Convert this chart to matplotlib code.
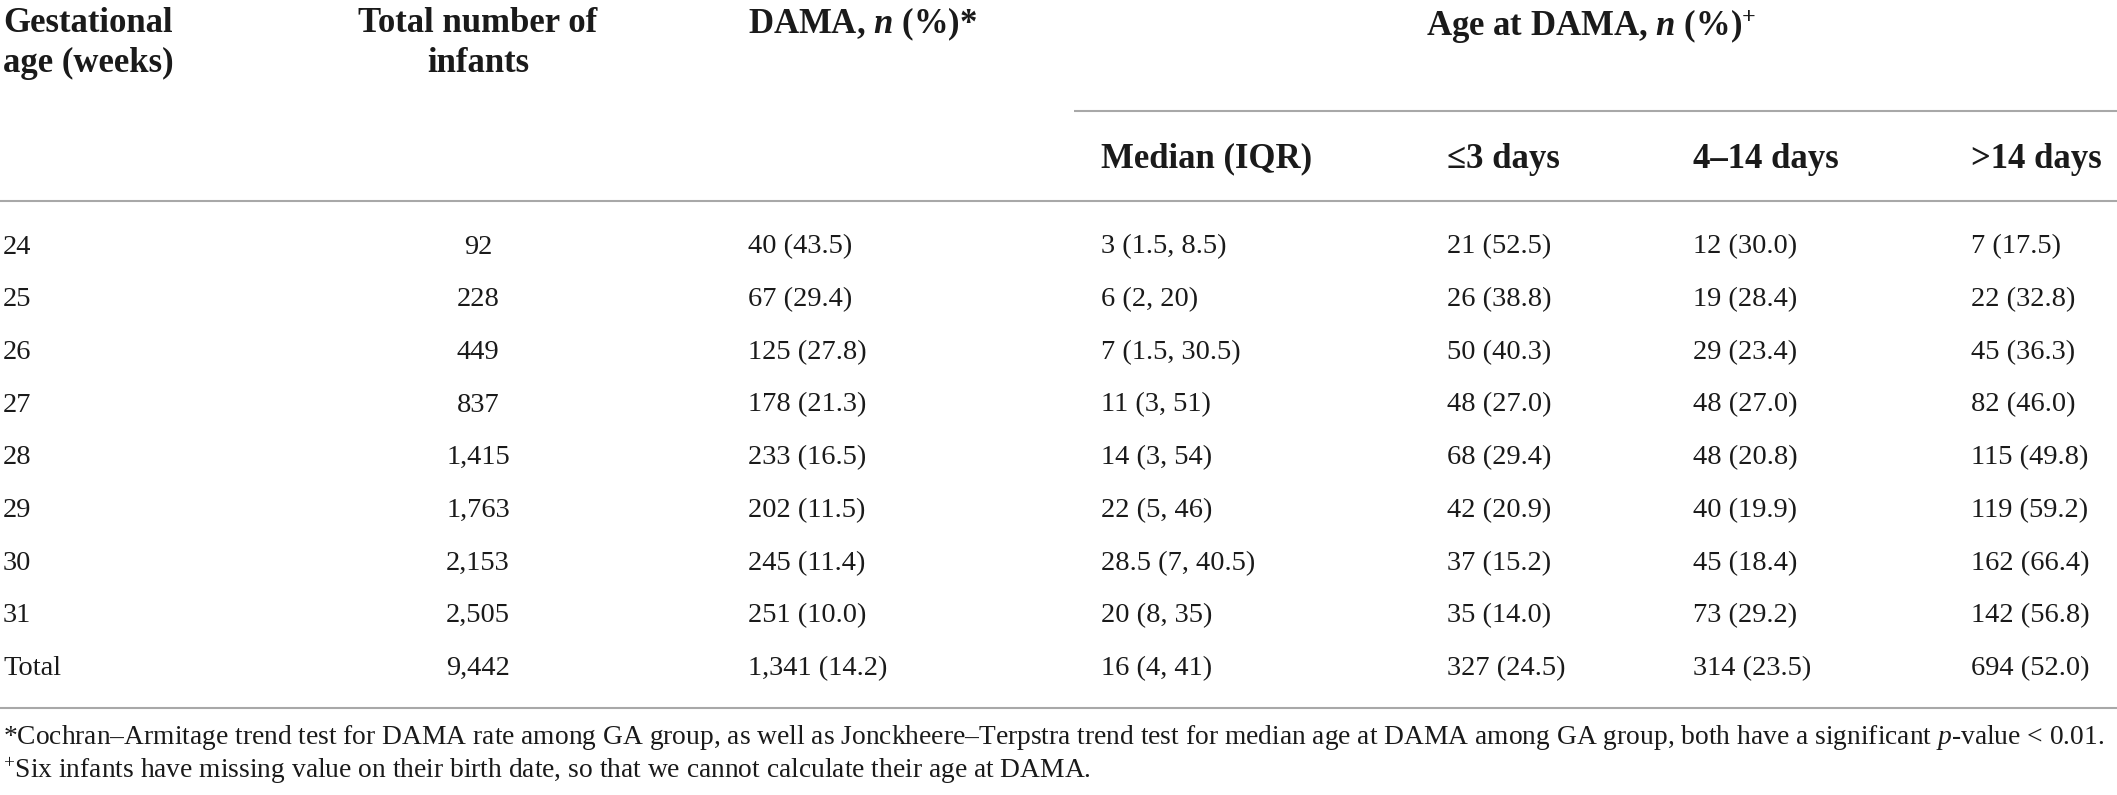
import matplotlib
matplotlib.use("Agg")
import matplotlib.pyplot as plt

# table content
ga = ["24", "25", "26", "27", "28", "29", "30", "31", "Total"]
total_infants = ["92", "228", "449", "837", "1,415", "1,763", "2,153", "2,505", "9,442"]
dama = ["40 (43.5)", "67 (29.4)", "125 (27.8)", "178 (21.3)", "233 (16.5)",
        "202 (11.5)", "245 (11.4)", "251 (10.0)", "1,341 (14.2)"]
median_iqr = ["3 (1.5, 8.5)", "6 (2, 20)", "7 (1.5, 30.5)", "11 (3, 51)", "14 (3, 54)",
              "22 (5, 46)", "28.5 (7, 40.5)", "20 (8, 35)", "16 (4, 41)"]
le3_days = ["21 (52.5)", "26 (38.8)", "50 (40.3)", "48 (27.0)", "68 (29.4)",
            "42 (20.9)", "37 (15.2)", "35 (14.0)", "327 (24.5)"]
d4_14_days = ["12 (30.0)", "19 (28.4)", "29 (23.4)", "48 (27.0)", "48 (20.8)",
              "40 (19.9)", "45 (18.4)", "73 (29.2)", "314 (23.5)"]
gt14_days = ["7 (17.5)", "22 (32.8)", "45 (36.3)", "82 (46.0)", "115 (49.8)",
             "119 (59.2)", "162 (66.4)", "142 (56.8)", "694 (52.0)"]

sub_headers = ["Median (IQR)", "\u22643 days", "4\u201314 days", ">14 days"]
footnotes = [
    "*Cochran\u2013Armitage trend test for DAMA rate among GA group, as well as "
    "Jonckheere\u2013Terpstra trend test for median age at DAMA among GA group, "
    "both have a significant $p$-value < 0.01.",
    "$^{+}$Six infants have missing value on their birth date, so that we cannot "
    "calculate their age at DAMA.",
]

plt.rcParams["font.family"] = "Liberation Serif"
plt.rcParams["mathtext.fontset"] = "custom"
plt.rcParams["mathtext.rm"] = "Liberation Serif"
plt.rcParams["mathtext.it"] = "Liberation Serif:italic"
plt.rcParams["mathtext.bf"] = "Liberation Serif:bold"
plt.rcParams["mathtext.bfit"] = "Liberation Serif:italic:bold"

W, H = 2117, 795
fig = plt.figure(figsize=(W / 100, H / 100), dpi=100)
ax = fig.add_axes([0, 0, 1, 1])
ax.set_xlim(0, W)
ax.set_ylim(H, 0)
ax.axis("off")

ink = "#1a1a1a"
rule = "#a8a8a8"
body_fs = 20.5
head_fs = 25
note_fs = 19.8

# header
ax.text(3, 24, "Gestational", fontsize=head_fs, fontweight="bold", color=ink, va="center")
ax.text(3, 63, "age (weeks)", fontsize=head_fs, fontweight="bold", color=ink, va="center")
ax.text(478, 24, "Total number of", fontsize=head_fs, fontweight="bold", color=ink,
        va="center", ha="center")
ax.text(478, 63, "infants", fontsize=head_fs, fontweight="bold", color=ink,
        va="center", ha="center")
ax.text(748, 24, r"DAMA, $\mathbfit{n}$ (%)*", fontsize=head_fs, fontweight="bold",
        color=ink, va="center")
ax.text(1591, 27, r"Age at DAMA, $\mathbfit{n}$ (%)$^{\mathbf{+}}$", fontsize=head_fs,
        fontweight="bold", color=ink, va="center", ha="center")

sub_x = [1101, 1447, 1693, 1971]
for x, lab in zip(sub_x, sub_headers):
    ax.text(x, 159, lab, fontsize=head_fs, fontweight="bold", color=ink, va="center")

ax.plot([1074, W], [111, 111], color=rule, lw=1.5, solid_capstyle="butt")
ax.plot([0, W], [201, 201], color=rule, lw=1.5, solid_capstyle="butt")
ax.plot([0, W], [708, 708], color=rule, lw=1.5, solid_capstyle="butt")

# body rows
row_y0, row_step = 247, 52.7
for i in range(len(ga)):
    y = row_y0 + i * row_step
    ax.text(3, y, ga[i], fontsize=body_fs, color=ink, va="center")
    ax.text(478, y, total_infants[i], fontsize=body_fs, color=ink, va="center", ha="center")
    ax.text(748, y, dama[i], fontsize=body_fs, color=ink, va="center")
    for x, col in zip(sub_x, [median_iqr, le3_days, d4_14_days, gt14_days]):
        ax.text(x, y, col[i], fontsize=body_fs, color=ink, va="center")

ax.text(3, 737, footnotes[0], fontsize=note_fs, color=ink, va="center")
ax.text(3, 771, footnotes[1], fontsize=note_fs, color=ink, va="center")

fig.savefig("out.png", dpi=100)
